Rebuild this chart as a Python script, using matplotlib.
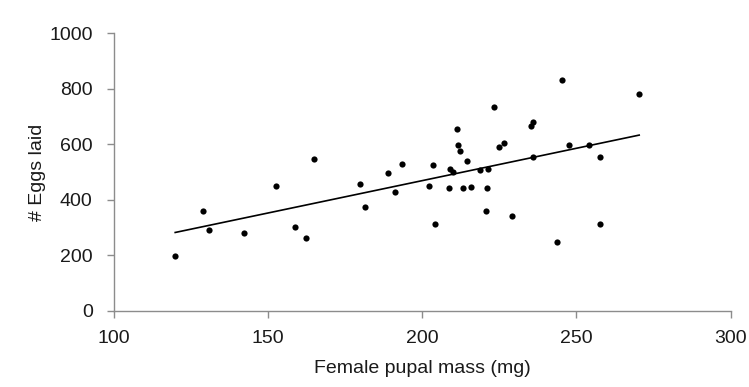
import matplotlib
matplotlib.use("Agg")
import matplotlib.pyplot as plt

# Data
pupal_mass = [120.0, 129.1, 130.8, 142.4, 152.8, 158.8, 162.3, 165.1, 179.8, 181.6,
              188.9, 191.1, 193.4, 202.4, 203.7, 204.1, 209.0, 210.2, 208.9, 211.5,
              211.7, 212.3, 214.6, 213.2, 215.8, 218.7, 221.4, 221.0, 220.6, 223.4,
              225.1, 226.7, 229.1, 235.4, 235.9, 236.1, 243.8, 245.5, 247.8, 254.2,
              257.6, 257.8, 270.4]
eggs_laid = [198, 359, 292, 280, 450, 303, 262, 548, 455, 375,
             496, 428, 530, 450, 525, 314, 512, 501, 441, 655,
             598, 575, 541, 441, 446, 507, 512, 443, 359, 733,
             589, 603, 341, 667, 682, 553, 246, 830, 598, 598,
             555, 314, 780]
trend_x = [120.0, 270.4]
trend_y = [282, 633]

x_ticks = [100, 150, 200, 250, 300]
y_ticks = [0, 200, 400, 600, 800, 1000]

plt.rcParams['font.family'] = ['Liberation Sans', 'DejaVu Sans']

fig = plt.figure(figsize=(7.49, 3.87), dpi=100)
ax = fig.add_axes([113.5/749, 76.3/387, 617/749, 277.4/387])

ax.scatter(pupal_mass, eggs_laid, s=20, color='black', zorder=3, linewidths=0)
ax.plot(trend_x, trend_y, color='black', linewidth=1.2, zorder=2)

ax.set_xlim(100, 300)
ax.set_ylim(0, 1000)
ax.set_xticks(x_ticks)
ax.set_yticks(y_ticks)

for s in ['top', 'right']:
    ax.spines[s].set_visible(False)
for s in ['left', 'bottom']:
    ax.spines[s].set_color('#8c8c8c')
    ax.spines[s].set_linewidth(1.0)

ax.tick_params(axis='both', direction='out', length=5, width=1.0, color='#8c8c8c',
               labelsize=14, labelcolor='#1a1a1a')
ax.tick_params(axis='y', pad=10)
ax.tick_params(axis='x', pad=9)

ax.set_xlabel('Female pupal mass (mg)', fontsize=14, color='#1a1a1a', labelpad=9)
ax.set_ylabel('# Eggs laid', fontsize=14, color='#1a1a1a', labelpad=2)

fig.savefig('out.png', dpi=100)
